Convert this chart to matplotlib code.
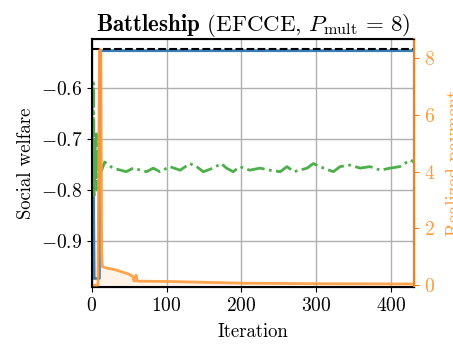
import matplotlib
matplotlib.use("Agg")
import matplotlib.pyplot as plt

plt.rcParams['font.family'] = 'cmr10'
plt.rcParams['mathtext.fontset'] = 'cm'
plt.rcParams['axes.formatter.use_mathtext'] = True

# social welfare of the learned equilibrium (blue), keypoints
blue_iters = [0, 1, 2, 3, 10, 11, 431]
blue_vals = [-0.973, -0.74, -0.80, -0.973, -0.973, -0.527, -0.527]

# optimal social welfare (black dashed)
opt_welfare = -0.5235

# social welfare of the other run (green dash-dot)
green_iters = [0, 1, 2, 3, 4, 5, 6, 7, 8, 9, 10, 11, 12, 13, 17, 28, 46, 55, 73, 82, 91,
               104, 118, 131, 140, 149, 162, 173, 180, 189, 198, 211, 225, 238, 252,
               261, 270, 288, 296, 310, 323, 332, 345, 359, 372, 386, 399, 412, 426, 431]
green_vals = [-0.62, -0.80, -0.59, -0.81, -0.70, -0.78, -0.69, -0.80, -0.72, -0.76, -0.70,
              -0.78, -0.76, -0.761, -0.745, -0.757, -0.764, -0.757, -0.764, -0.757, -0.764,
              -0.754, -0.761, -0.748, -0.754, -0.764, -0.757, -0.748, -0.757, -0.764,
              -0.754, -0.761, -0.757, -0.761, -0.764, -0.754, -0.764, -0.757, -0.748,
              -0.757, -0.764, -0.754, -0.751, -0.757, -0.754, -0.761, -0.757, -0.754,
              -0.741, -0.745]

# realized payment (orange, right axis)
pay_iters = [0, 8, 9, 10, 11, 12, 13, 14, 20, 30, 40, 50, 55, 56, 58, 59, 60, 61,
             100, 150, 200, 300, 431]
pay_vals = [0.0, 0.0, 4.0, 8.25, 8.3, 8.2, 1.1, 0.65, 0.6, 0.55, 0.47, 0.38, 0.3,
            0.15, 0.15, 0.35, 0.2, 0.14, 0.13, 0.1, 0.07, 0.05, 0.04]

blue = '#377eb8'
green = '#4daf4a'
orange = '#ff9a3c'
dark_orange = '#f08020'

fig = plt.figure(figsize=(4.53, 3.51), dpi=100)
ax = fig.add_axes([0.203, 0.182, 0.711, 0.707])

ax.plot(blue_iters, blue_vals, color=blue, lw=2, zorder=3)
ax.axhline(opt_welfare, color='black', ls='--', lw=1.5, zorder=4)
ax.plot(green_iters, green_vals, color=green, lw=2, ls='-.', zorder=3)

ax.set_xlim(0, 431)
ax.set_ylim(-0.99, -0.504)
ax.set_xticks([0, 100, 200, 300, 400])
ax.set_yticks([-0.9, -0.8, -0.7, -0.6])
ax.grid(True, color='#b0b0b0', lw=1)
ax.set_axisbelow(True)
ax.tick_params(labelsize=14)
ax.set_xlabel('Iteration', fontsize=13.5, labelpad=6)
ax.set_ylabel('Social welfare', fontsize=13.5)
ax.set_title(r'$\mathbf{Battleship}$ (EFCCE, $P_{\mathrm{mult}}\,=\,8$)', fontsize=16.5, pad=4)
for s in ax.spines.values():
    s.set_linewidth(1.5)

ax2 = ax.twinx()
ax2.plot(pay_iters, pay_vals, color=orange, lw=2, alpha=0.9, zorder=2)
ax2.fill_between(pay_iters, 0, pay_vals, color=orange, alpha=0.12, lw=0)
ax2.set_ylim(-0.07, 8.67)
ax2.set_yticks([0, 2, 4, 6, 8])
ax2.tick_params(axis='y', colors=dark_orange, labelcolor=orange, labelsize=14)
ax2.spines['right'].set_color(dark_orange)
ax2.spines['right'].set_linewidth(1.5)
ax2.set_ylabel('Realized payment', color=orange, fontsize=13.5, labelpad=8)

fig.savefig('out.png', dpi=100)
